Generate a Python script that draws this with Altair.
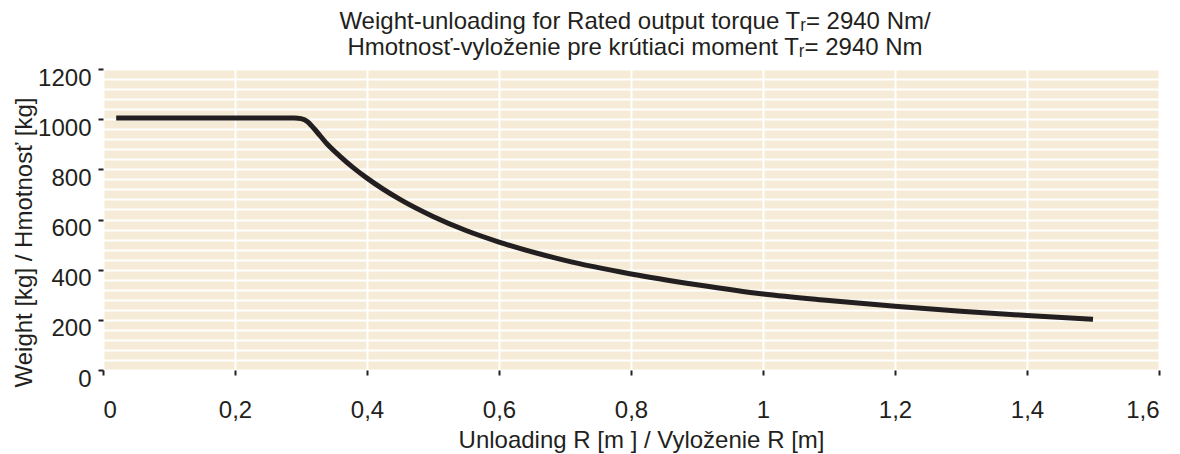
import altair as alt
import pandas as pd

# Unloading R [m]
radius = [0.02, 0.29, 0.30, 0.31, 0.32, 0.34, 0.36, 0.38, 0.40, 0.45, 0.50, 0.55,
          0.60, 0.70, 0.80, 0.90, 1.00, 1.10, 1.20, 1.30, 1.40, 1.50]
# Weight [kg]
weight = [1005, 1005, 1002, 990, 962, 900, 850, 805, 765, 680, 612, 556,
          510, 437, 383, 340, 303, 277, 254, 234, 217, 202]

x_ticks = [0, 0.2, 0.4, 0.6, 0.8, 1.0, 1.2, 1.4, 1.6]
y_grid = list(range(0, 1201, 40))

df = pd.DataFrame({"R": radius, "W": weight})

TXT = "#231F20"
FONT = "Liberation Sans"

chart = (
    alt.Chart(df)
    .mark_line(color=TXT, strokeWidth=5, interpolate="monotone", strokeCap="butt")
    .encode(
        x=alt.X(
            "R:Q",
            scale=alt.Scale(domain=[0, 1.6], nice=False, zero=False),
            axis=alt.Axis(
                values=x_ticks,
                title="Unloading R [m ] / Vyloženie R [m]",
                labelExpr="replace(format(datum.value, '~g'), '.', ',')",
                domain=False,
                tickSize=5,
                tickWidth=2,
                tickColor=TXT,
                grid=True,
                gridColor="white",
                gridWidth=2,
                labelPadding=23,
                labelFontSize=24,
                labelColor=TXT,
                labelFont=FONT,
                titleFontSize=24,
                titleFont=FONT,
                titleColor=TXT,
                titleFontWeight="normal",
                titleX=538,
                titleY=77,
                titleBaseline="alphabetic",
            ),
        ),
        y=alt.Y(
            "W:Q",
            scale=alt.Scale(domain=[0, 1200], nice=False),
            axis=alt.Axis(
                values=y_grid,
                title="Weight [kg] / Hmotnosť [kg]",
                labelExpr="datum.value % 200 == 0 ? datum.value : ''",
                domain=False,
                tickSize=5,
                tickWidth=2,
                tickColor=TXT,
                tickOpacity={"condition": {"test": "datum.value % 200 == 0", "value": 1}, "value": 0},
                grid=True,
                gridColor="white",
                gridWidth=2,
                labelBaseline="top",
                labelOffset=-3,
                labelPadding=7,
                labelFontSize=24,
                labelColor=TXT,
                labelFont=FONT,
                titleFontSize=24,
                titleFont=FONT,
                titleColor=TXT,
                titleFontWeight="normal",
                titleAngle=-90,
                titleX=-72,
                titleY=173,
                titleBaseline="alphabetic",
                titleAlign="center",
            ),
        ),
    )
    .properties(
        width=1056,
        height=301,
        autosize=alt.AutoSizeParams(type="none"),
        padding={"left": 95, "top": 61, "right": 5, "bottom": 84},
        title=alt.TitleParams(
            text=[
                "Weight-unloading for Rated output torque Tᵣ= 2940 Nm/",
                "Hmotnosť-vyloženie pre krútiaci moment Tᵣ= 2940 Nm",
            ],
            font=FONT,
            fontSize=24,
            fontWeight="normal",
            color=TXT,
            anchor="middle",
            dx=4,
            offset=6,
            lineHeight=26,
        ),
    )
    .configure(background="white")
    .configure_view(fill="#F5EBD6", stroke=None)
)

chart.save("out.html", embed_options={"renderer": "svg", "actions": False})
